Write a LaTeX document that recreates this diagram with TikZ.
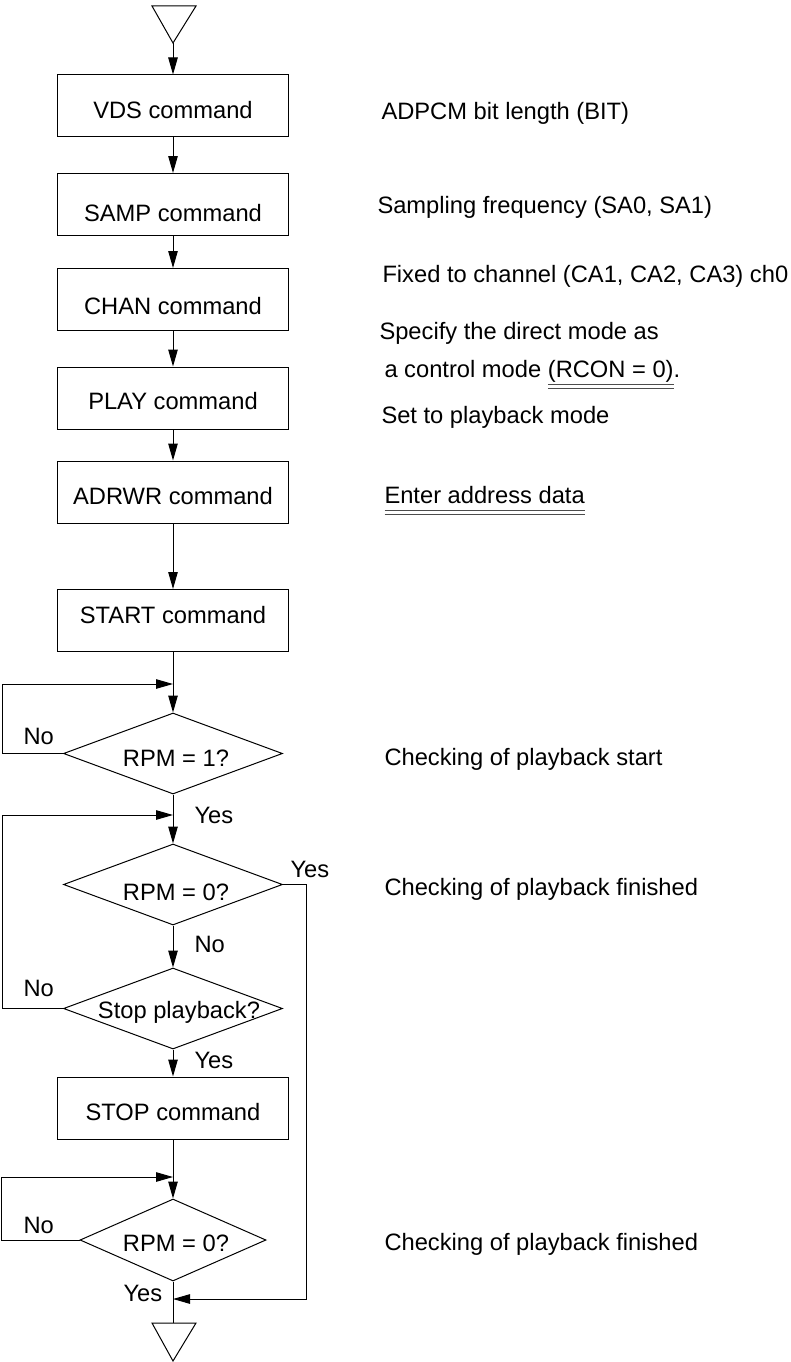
\documentclass[tikz,border=0pt]{standalone}
\usepackage{fontspec}
\setmainfont{Liberation Sans}
\usetikzlibrary{arrows.meta,shapes.geometric}
\newcommand\figfont{\fontsize{23.7pt}{28pt}\selectfont}
\newcommand\dblul[1]{\setbox0\hbox{#1}\rlap{\color{black!70}\rule[-7.5pt]{\wd0}{0.9pt}}\rlap{\color{black!70}\rule[-11.5pt]{\wd0}{0.9pt}}\box0}
\begin{document}
\begin{tikzpicture}[x=1pt,y=-1pt,font=\figfont,line width=1pt,
  box/.style={draw,minimum width=231pt,minimum height=62pt,inner sep=0pt,text height=25pt,text depth=0pt},
  dia/.style={draw,diamond,inner sep=0pt,minimum width=219pt,minimum height=81pt},
  txt/.style={anchor=base west,inner sep=0pt},
  arr/.style={-{Triangle[length=17pt,width=9.5pt]}}]
\useasboundingbox (0,0) rectangle (790,1362);
% terminals
\draw (152,6) -- (196,6) -- (173,43) -- cycle;
\coordinate (ttop) at (173,43);
\draw (152,1323) -- (196,1323) -- (173,1361) -- cycle;
\coordinate (tbot) at (173,1323);
% boxes
\node[box,text height=25.6pt] (vds) at (173,106) {VDS command};
\node[box,text height=33pt] (samp) at (173,204.5) {SAMP command};
\node[box,text height=30pt] (chan) at (173,299.5) {CHAN command};
\node[box,text height=23pt] (play) at (173,398) {PLAY command};
\node[box,text height=25pt] (adrwr) at (173,492) {ADRWR command};
\node[box,text height=5pt] (start) at (173,620.5) {START command};
\node[box,text height=24.4pt] (stop) at (173,1108) {STOP command};
% decisions
\node[dia] (d1) at (173,753.5) {};
\node[txt,anchor=base] (d1t) at (176,766) {RPM = 1?};
\node[dia] (d2) at (173,884.5) {};
\node[txt,anchor=base] (d2t) at (176,900) {RPM = 0?};
\node[dia] (d3) at (173,1008.5) {};
\node[txt,anchor=base] (d3t) at (179,1018) {Stop playback?};
\node[dia,minimum width=186pt,minimum height=82pt] (d4) at (173,1240) {};
\node[txt,anchor=base] (d4t) at (176,1251.5) {RPM = 0?};
% junctions
\coordinate (j1) at (173,684);
\coordinate (j2) at (173,815);
\coordinate (j3) at (173,1177);
\coordinate (j4) at (173,1299);
% main flow
\draw[arr] (ttop) -- (vds.north);
\draw[arr] (vds) -- (samp);
\draw[arr] (samp) -- (chan);
\draw[arr] (chan) -- (play);
\draw[arr] (play) -- (adrwr);
\draw[arr] (adrwr) -- (start);
\draw[arr] (start) -- (d1.north);
\draw[arr] (d1.south) -- (d2.north);
\draw[arr] (d2.south) -- (d3.north);
\draw[arr] (d3.south) -- (stop.north);
\draw[arr] (stop.south) -- (d4.north);
\draw (d4.south) -- (tbot);
% loops
\draw[arr] (d1.west) -- ++(-61,0) |- (j1);
\draw[arr] (d3.west) -- ++(-61,0) |- (j2);
\draw[arr] (d4.west) -- ++(-78,0) |- (j3);
\draw[arr] (d2.east) -- ++(23,0) |- (j4);
% branch labels
\node[txt] (n1) at (23,744) {No};
\node[txt] (y1) at (194,823) {Yes};
\node[txt] (y2) at (290,877) {Yes};
\node[txt] (n2) at (194,952) {No};
\node[txt] (n3) at (23,996) {No};
\node[txt] (y3) at (194,1068) {Yes};
\node[txt] (n4) at (23,1233) {No};
\node[txt] (y4) at (123,1301) {Yes};
% notes
\node[txt] (c1) at (381,120) {ADPCM bit length (BIT)};
\node[txt] (c2) at (377,213) {Sampling frequency (SA0, SA1)};
\node[txt] (c3) at (382,282) {Fixed to channel (CA1, CA2, CA3) ch0};
\node[txt] (c4) at (379,339) {Specify the direct mode as};
\node[txt] (c5) at (384,377) {a control mode \dblul{(RCON = 0)}.};
\node[txt] (c6) at (381,423) {Set to playback mode};
\node[txt] (c7) at (384,503) {\dblul{Enter address data}};
\node[txt] (c8) at (384,765) {Checking of playback start};
\node[txt] (c9) at (384,895) {Checking of playback finished};
\node[txt] (c10) at (384,1250) {Checking of playback finished};
\end{tikzpicture}
\end{document}
